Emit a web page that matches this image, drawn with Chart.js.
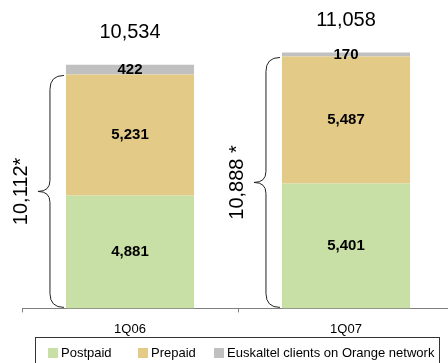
<!DOCTYPE html>
<html><head><meta charset="utf-8">
<script src="https://cdn.jsdelivr.net/npm/chart.js@4/dist/chart.umd.min.js"></script>
<style>
html,body{margin:0;padding:0;background:#fff;overflow:hidden;}
#wrap{position:relative;width:456px;height:363px;}
</style></head><body>
<div id="wrap"><canvas id="c" width="456" height="363"></canvas></div>
<script>
// Mobile customer base by quarter (thousands)
const quarters = ['1Q06', '1Q07'];
const postpaid = [4881, 5401];
const prepaid = [5231, 5487];
const euskaltel = [422, 170];
const seriesNames = ['Postpaid', 'Prepaid', 'Euskaltel clients on Orange network'];
const braceSuffix = ['*', ' *'];

const FONT = '"Liberation Sans", Arial, Helvetica, sans-serif';
const COLORS = ['#C8E0A6', '#E3CB87', '#C0C0C0'];
const fmt = v => v.toLocaleString('en-US');

// Segment values, segment totals, braces and legend box
const annotate = {
  id: 'annotate',
  afterDatasetsDraw(chart) {
    const ctx = chart.ctx;
    const metas = chart.data.datasets.map((d, i) => chart.getDatasetMeta(i));
    ctx.save();
    ctx.fillStyle = '#000';
    ctx.textAlign = 'center';
    ctx.textBaseline = 'middle';

    // values inside each segment
    ctx.font = 'bold 15px ' + FONT;
    metas.forEach((meta, di) => {
      meta.data.forEach((el, i) => {
        const v = chart.data.datasets[di].data[i];
        ctx.fillText(fmt(v), el.x, (el.y + el.base) / 2);
      });
    });

    // totals above the bars
    ctx.font = '20px ' + FONT;
    const top = metas[metas.length - 1];
    top.data.forEach((el, i) => {
      const total = chart.data.datasets.reduce((s, d) => s + d.data[i], 0);
      ctx.fillText(fmt(total), el.x, el.y - 32);
    });

    // braces spanning postpaid + prepaid
    const pre = metas[1];
    pre.data.forEach((el, i) => {
      const left = el.x - el.width / 2;
      const yTop = el.y + 1, yBot = metas[0].data[i].base - 1;
      const yMid = (yTop + yBot) / 2;
      const xEnd = left - 2, xLine = left - 16, xTip = left - 28;
      const r = 14, rm = 11;
      ctx.beginPath();
      ctx.moveTo(xEnd, yTop);
      ctx.quadraticCurveTo(xLine, yTop, xLine, yTop + r);
      ctx.lineTo(xLine, yMid - rm);
      ctx.quadraticCurveTo(xLine, yMid, xTip, yMid);
      ctx.quadraticCurveTo(xLine, yMid, xLine, yMid + rm);
      ctx.lineTo(xLine, yBot - r);
      ctx.quadraticCurveTo(xLine, yBot, xEnd, yBot);
      ctx.lineWidth = 1;
      ctx.strokeStyle = '#222';
      ctx.stroke();

      const sum = postpaid[i] + prepaid[i];
      ctx.save();
      ctx.translate(left - 44, yMid);
      ctx.rotate(-Math.PI / 2);
      ctx.font = '20px ' + FONT;
      ctx.fillText(fmt(sum) + braceSuffix[i], 0, 0);
      ctx.restore();
    });

    // legend box
    ctx.strokeStyle = '#333';
    ctx.lineWidth = 1;
    ctx.strokeRect(35.5, 337.5, 404, 40);
    const items = [48, 138, 214];
    ctx.font = '13px ' + FONT;
    ctx.textAlign = 'left';
    chart.data.datasets.forEach((d, i) => {
      ctx.fillStyle = d.backgroundColor;
      ctx.fillRect(items[i], 348, 10, 10);
      ctx.fillStyle = '#000';
      ctx.fillText(d.label, items[i] + 13, 353);
    });
    ctx.restore();
  }
};

new Chart(document.getElementById('c'), {
  type: 'bar',
  data: {
    labels: quarters,
    datasets: [
      { label: seriesNames[0], data: postpaid, backgroundColor: COLORS[0] },
      { label: seriesNames[1], data: prepaid, backgroundColor: COLORS[1] },
      { label: seriesNames[2], data: euskaltel, backgroundColor: COLORS[2] }
    ]
  },
  options: {
    responsive: false,
    devicePixelRatio: 1,
    animation: false,
    layout: { padding: { left: 22, right: 2, top: 0, bottom: 17 } },
    datasets: { bar: { barPercentage: 0.593, categoryPercentage: 1.0, borderWidth: 0 } },
    plugins: { legend: { display: false }, tooltip: { enabled: false } },
    scales: {
      x: {
        stacked: true,
        offset: true,
        grid: { display: true, drawOnChartArea: false, drawTicks: true, tickLength: 4, color: '#808080', offset: true },
        border: { display: true, color: '#808080', width: 1 },
        ticks: { color: '#000', padding: 9, font: { family: FONT, size: 13 } }
      },
      y: { stacked: true, display: false, min: 0, max: 13330 }
    }
  },
  plugins: [annotate]
});
</script>
</body></html>
